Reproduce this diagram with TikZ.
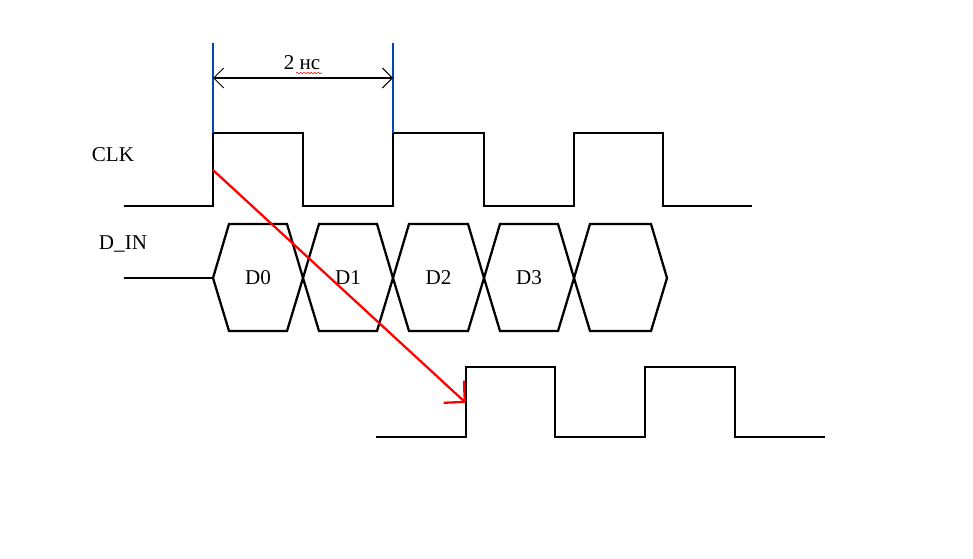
\documentclass[tikz,border=0pt]{standalone}
\usepackage{fontspec}
\setmainfont{Liberation Serif}
\usetikzlibrary{arrows.meta, positioning, decorations.pathmorphing}

\begin{document}
\begin{tikzpicture}[x=0.02cm, y=-0.02cm,
    signal/.style={draw=black, line width=1.3pt},
    marker/.style={draw=blue!60!cyan!70!black, line width=0.6pt},
    label_text/.style={font=\fontsize{12}{14}\selectfont, inner sep=1pt},
    dataword/.style={signal, line join=miter}
]
\useasboundingbox (0,0) rectangle (973,558);

% Labels
\node (clk_label) at (113,155) [label_text] {CLK};
\node (din_label) at (123,244) [label_text] {D\_IN};

% Clock
\coordinate (clk_start) at (124,206);
\coordinate (clk_edge) at (213,170);
\draw [signal] (clk_start) -- (213,206) -- (213,133) -- (303,133) -- (303,206) -- (393,206)
    -- (393,133) -- (484,133) -- (484,206) -- (574,206) -- (574,133) -- (663,133)
    -- (663,206) -- (752,206);

% Period marker
\coordinate (mark_a) at (213,43);
\coordinate (mark_b) at (393,43);
\draw [marker] (mark_a) -- (213,133);
\draw [marker] (mark_b) -- (393,133);
\coordinate (period_a) at (213,78);
\coordinate (period_b) at (393,78);
\draw [{Straight Barb[length=2mm]}-{Straight Barb[length=2mm]}, line width=0.6pt] (period_a) -- (period_b);
\node (period_label) at (302,63) [label_text] {2 нс};
\draw [red, decorate, decoration={snake, amplitude=0.4pt, segment length=2pt}, line width=0.3pt]
    (296,73) -- (322,73);

% Data input
\draw [signal] (124,278) -- (213,278);
\foreach \xa/\xb/\name in {213/303/D0, 303/393/D1, 393/484/D2, 484/574/D3, 574/667/{}} {
    \draw [dataword] (\xa,278) -- (\xa+16,224) -- (\xb-16,224) -- (\xb,278)
        -- (\xb-16,331) -- (\xa+16,331) -- cycle;
    \node at ({(\xa+\xb)/2},278) [label_text] {\name};
}

% Output
\coordinate (out_edge) at (466,403);
\draw [signal] (376,437) -- (466,437) -- (466,367) -- (555,367) -- (555,437) -- (645,437)
    -- (645,367) -- (735,367) -- (735,437) -- (825,437);

% Delay
\draw [red, line width=1.3pt, -{Straight Barb[length=3mm]}] (clk_edge) -- (out_edge);

\end{tikzpicture}
\end{document}
